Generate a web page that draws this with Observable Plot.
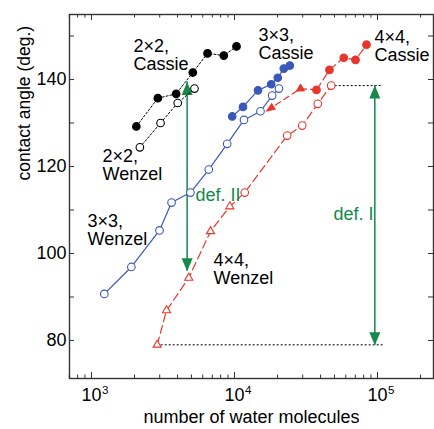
<!DOCTYPE html>
<html><head><meta charset="utf-8">
<script src="https://cdn.jsdelivr.net/npm/d3@7"></script>
<script src="https://cdn.jsdelivr.net/npm/@observablehq/plot@0.6"></script>
<style>body{margin:0;background:#fff}</style>
</head><body><div id="chart"></div>
<script>
// ---- data ----
const cassie2N = [2060, 2910, 3910, 5110, 6480, 8420, 10330];
const cassie2A = [129.2, 135.7, 136.7, 141.6, 146.0, 145.5, 147.6];
const wenzel2N = [2180, 3040, 4010, 5250];
const wenzel2A = [124.4, 130.0, 134.6, 137.9];
const wenzel3N = [1230, 1900, 2990, 3630, 4920, 6610, 8890, 11650, 15200, 18340, 20470];
const wenzel3A = [90.7, 96.9, 105.3, 111.7, 114.0, 119.3, 125.2, 130.7, 132.7, 136.3, 137.9];
const cassie3N = [9640, 11470, 14600, 18060, 20080, 22120, 24360];
const cassie3A = [131.5, 133.7, 137.5, 138.9, 140.4, 142.5, 143.2];
const cassie4N = [37450, 46150, 58120, 70200, 83790];
const cassie4A = [137.6, 142.2, 145.0, 144.5, 148.0];
const wenzel4TriN = [2880, 3350, 4790, 6800, 9270];
const wenzel4TriA = [79.0, 86.9, 94.4, 105.1, 110.8];
const wenzel4CirN = [11790, 23360, 29750, 38230, 47450];
const wenzel4CirA = [114.0, 127.1, 129.4, 134.4, 138.6];
const backN = [37450, 28940, 16500];
const backA = [137.6, 137.9, 132.6];
const defIN = 95800, defIA = [78.9, 138.6];
const defIIN = 4665, defIIA = [95.9, 139.4];
const guideTop = {a: 138.6, n1: 47450, n2: 110000};
const guideBot = {a: 79.0, n1: 2880, n2: 110000};

const xMajor = [1e3, 1e4, 1e5];
const xMajorExp = ["3", "4", "5"];
const xMinor = [700, 800, 900, 2000, 3000, 4000, 5000, 6000, 7000, 8000, 9000,
                20000, 30000, 40000, 50000, 60000, 70000, 80000, 90000, 200000];
const yTicks = [80, 90, 100, 110, 120, 130, 140, 150];
const yLabels = [80, 100, 120, 140];

const labels = [
  {n: 1967, a: 149.4, t: "2×2,\nCassie"},
  {n: 1194, a: 124.1, t: "2×2,\nWenzel"},
  {n: 14720, a: 151.9, t: "3×3,\nCassie"},
  {n: 938, a: 109.2, t: "3×3,\nWenzel"},
  {n: 95300, a: 151.5, t: "4×4,\nCassie"},
  {n: 7131, a: 100.2, t: "4×4,\nWenzel"}
];
const greenLabels = [
  {n: 5338, a: 114.9, t: "def. II"},
  {n: 49240, a: 110.6, t: "def. I"}
];

const rows = (N, A) => N.map((n, i) => ({n, a: A[i]}));

// ---- style ----
const font = "'Liberation Sans', Arial, Helvetica, sans-serif";
const black = "#000", blue = "#3a58ba", red = "#e8362c", green = "#14894a", axisC = "#333";
const W = 434, H = 429, mL = 69, mR = 1, mT = 14, mB = 51;
const pw = W - mL - mR, ph = H - mT - mB;
const head = (w, l) => ({draw(ctx) { ctx.moveTo(0, 0); ctx.lineTo(-w / 2, l); ctx.lineTo(w / 2, l); ctx.closePath(); }});
const r = 3.8, sw = 1.1;

const chart = Plot.plot({
  width: W, height: H, marginLeft: mL, marginRight: mR, marginTop: mT, marginBottom: mB,
  style: {fontFamily: font, background: "white", overflow: "visible"},
  x: {type: "log", domain: [702, 246400], axis: null},
  y: {domain: [71.26, 154.94], axis: null},
  marks: [
    // ticks (inward on all four sides)
    Plot.tickX(xMinor, {x: d => d, insetTop: ph - 3.5, stroke: axisC}),
    Plot.tickX(xMajor, {x: d => d, insetTop: ph - 6, stroke: axisC}),
    Plot.tickX(xMinor, {x: d => d, insetBottom: ph - 3.5, stroke: axisC}),
    Plot.tickX(xMajor, {x: d => d, insetBottom: ph - 6, stroke: axisC}),
    Plot.tickY(yTicks, {y: d => d, insetRight: pw - 5, stroke: axisC}),
    Plot.tickY(yTicks, {y: d => d, insetLeft: pw - 5, stroke: axisC}),
    Plot.frame({stroke: axisC, strokeWidth: 1.4}),
    Plot.text(xMajor, {x: d => d, frameAnchor: "bottom", dy: 22, text: () => "10", fontSize: 18, fill: black}),
    Plot.text(xMajor, {x: d => d, frameAnchor: "bottom", dx: 10.5, dy: 15, textAnchor: "start", text: (d, i) => xMajorExp[i], fontSize: 11.5, fill: black}),
    Plot.text(yLabels, {y: d => d, frameAnchor: "left", dx: -3, textAnchor: "end", text: d => String(d), fontSize: 18, fill: black}),
    Plot.text(["number of water molecules"], {frameAnchor: "bottom", dy: 44, text: d => d, fontSize: 18, fill: black}),
    Plot.text(["contact angle (deg.)"], {frameAnchor: "left", dx: -45, dy: -16, rotate: -90, text: d => d, fontSize: 17.5, fill: black}),

    // guide dotted lines
    Plot.ruleY([guideTop, guideBot], {y: "a", x1: "n1", x2: "n2", stroke: black, strokeWidth: 1, strokeDasharray: "2,2"}),

    // green deformation arrows
    Plot.ruleX([defIN], {x: d => d, y1: defIA[0], y2: defIA[1], stroke: green, strokeWidth: 1.5}),
    Plot.ruleX([defIIN], {x: d => d, y1: defIIA[0], y2: defIIA[1], stroke: green, strokeWidth: 1.5}),
    Plot.dot([{n: defIN, a: defIA[1], r: 0}, {n: defIN, a: defIA[0], r: 180}, {n: defIIN, a: defIIA[1], r: 0}, {n: defIIN, a: defIIA[0], r: 180}],
      {x: "n", y: "a", rotate: "r", symbol: head(11, 13), fill: green, stroke: "none"}),

    // 2x2
    Plot.line(rows(wenzel2N, wenzel2A), {x: "n", y: "a", stroke: black, strokeWidth: 1, strokeDasharray: "2,2"}),
    Plot.line(rows(cassie2N, cassie2A), {x: "n", y: "a", stroke: black, strokeWidth: 1, strokeDasharray: "2,2"}),
    Plot.dot(rows(wenzel2N, wenzel2A), {x: "n", y: "a", r, fill: "white", stroke: black, strokeWidth: sw}),
    Plot.dot(rows(cassie2N, cassie2A), {x: "n", y: "a", r, fill: black, stroke: black, strokeWidth: sw}),

    // 3x3
    Plot.line(rows(wenzel3N, wenzel3A), {x: "n", y: "a", stroke: blue, strokeWidth: 1.2}),
    Plot.line(rows(cassie3N, cassie3A), {x: "n", y: "a", stroke: blue, strokeWidth: 1.2}),
    Plot.dot(rows(wenzel3N, wenzel3A), {x: "n", y: "a", r, fill: "white", stroke: blue, strokeWidth: sw}),
    Plot.dot(rows(cassie3N, cassie3A), {x: "n", y: "a", r, fill: blue, stroke: blue, strokeWidth: sw}),

    // 4x4
    Plot.line(rows(wenzel4TriN.concat(wenzel4CirN), wenzel4TriA.concat(wenzel4CirA)), {x: "n", y: "a", stroke: red, strokeWidth: 1.2, strokeDasharray: "8,4"}),
    Plot.line(rows(cassie4N, cassie4A), {x: "n", y: "a", stroke: red, strokeWidth: 1.2, strokeDasharray: "8,4"}),
    Plot.line(rows(backN, backA), {x: "n", y: "a", stroke: red, strokeWidth: 1.2, strokeDasharray: "6,4"}),
    Plot.dot([{n: backN[2], a: backA[2]}], {x: "n", y: "a", rotate: 236, symbol: head(8, 10), fill: red, stroke: "none"}),
    Plot.dot([{n: backN[1], a: backA[1]}], {x: "n", y: "a", r: 3, symbol: "triangle", fill: red, stroke: red, strokeWidth: 1}),
    Plot.dot(rows(wenzel4TriN, wenzel4TriA), {x: "n", y: "a", r: 3, symbol: "triangle", fill: "white", stroke: red, strokeWidth: sw}),
    Plot.dot(rows(wenzel4CirN, wenzel4CirA), {x: "n", y: "a", r, fill: "white", stroke: red, strokeWidth: sw}),
    Plot.dot(rows(cassie4N, cassie4A), {x: "n", y: "a", r, fill: red, stroke: red, strokeWidth: sw}),

    // annotations
    Plot.text(labels, {x: "n", y: "a", text: "t", textAnchor: "start", lineAnchor: "top", lineHeight: 1.02, fontSize: 18, fill: black}),
    Plot.text(greenLabels, {x: "n", y: "a", text: "t", textAnchor: "start", lineAnchor: "top", fontSize: 18, fill: green})
  ]
});
document.getElementById("chart").appendChild(chart);
</script>
</body></html>
